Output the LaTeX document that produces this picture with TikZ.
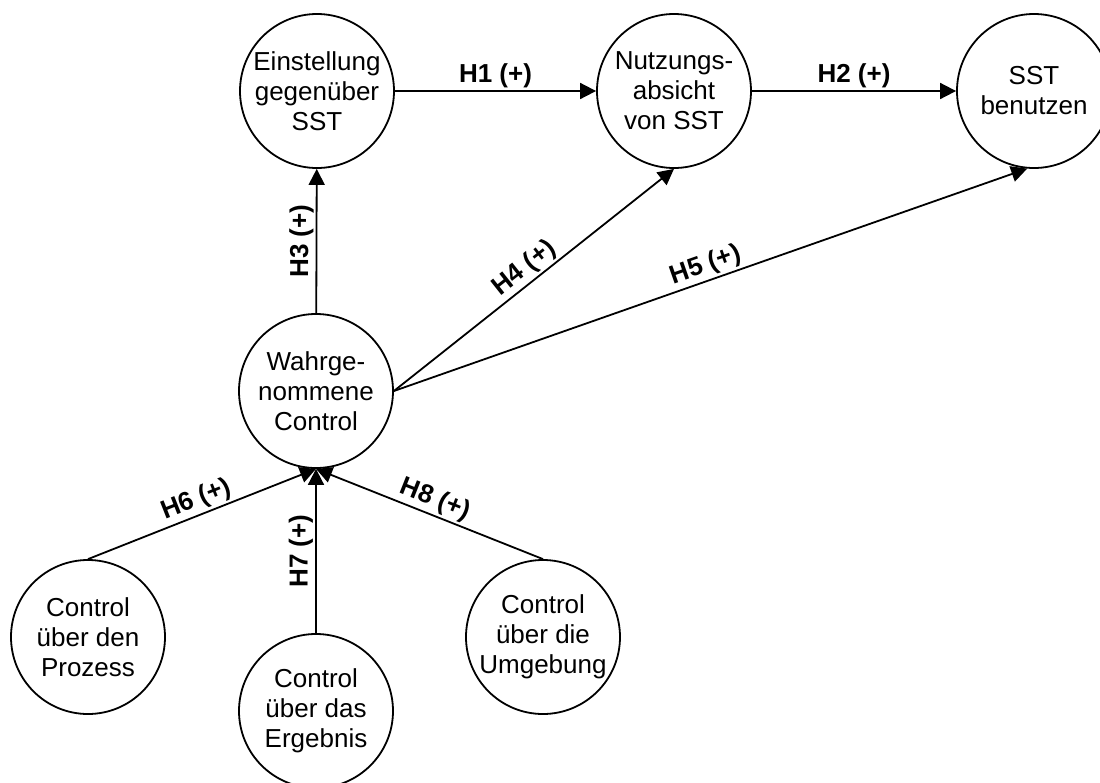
\documentclass[tikz,border=0pt]{standalone}
\usepackage{fontspec}
\setmainfont{Liberation Sans}
\usetikzlibrary{arrows.meta}
\begin{document}
\begin{tikzpicture}[x=0.5pt,y=-0.5pt,
  concept/.style={circle,draw,line width=0.9pt,minimum size=77pt,inner sep=0pt,align=center,
    font=\fontsize{13}{15}\selectfont},
  link/.style={line width=0.9pt,-{Triangle[length=8pt,width=8pt]}},
  hyp/.style={font=\fontsize{13}{15}\selectfont\bfseries,inner sep=1pt}]
\useasboundingbox (0,0) rectangle (1100,783);
\node[concept] (einst) at (317,91) {Einstellung\\gegenüber\\SST};
\node[concept] (nutz) at (674,91) {Nutzungs-\\absicht\\von SST};
\node[concept] (sst) at (1034,91) {SST\\benutzen};
\node[concept] (wahr) at (316,391) {Wahrge-\\nommene\\Control};
\node[concept] (proz) at (88,637) {Control\\über den\\Prozess};
\node[concept] (erg) at (316,711) {Control\\über das\\Ergebnis};
\node[concept] (umg) at (543,637) {Control\\über die\\Umgebung};
\draw[link] (einst) -- node[hyp,above] {H1 (+)} (nutz);
\draw[link] (nutz) -- node[hyp,above] {H2 (+)} (sst);
\draw[link] (wahr) -- node[hyp,sloped,above] {H3 (+)} (einst);
\draw[link] (wahr.east) -- node[hyp,sloped,above] {H4 (+)} (nutz.south);
\draw[link] (wahr.east) -- node[hyp,sloped,above] {H5 (+)} (sst.-95);
\draw[link] (proz.north) -- node[hyp,sloped,above] {H6 (+)} (wahr.south);
\draw[link] (erg.north) -- node[hyp,sloped,above] {H7 (+)} (wahr.south);
\draw[link] (umg.north) -- node[hyp,sloped,above] {H8 (+)} (wahr.south);
\end{tikzpicture}
\end{document}
